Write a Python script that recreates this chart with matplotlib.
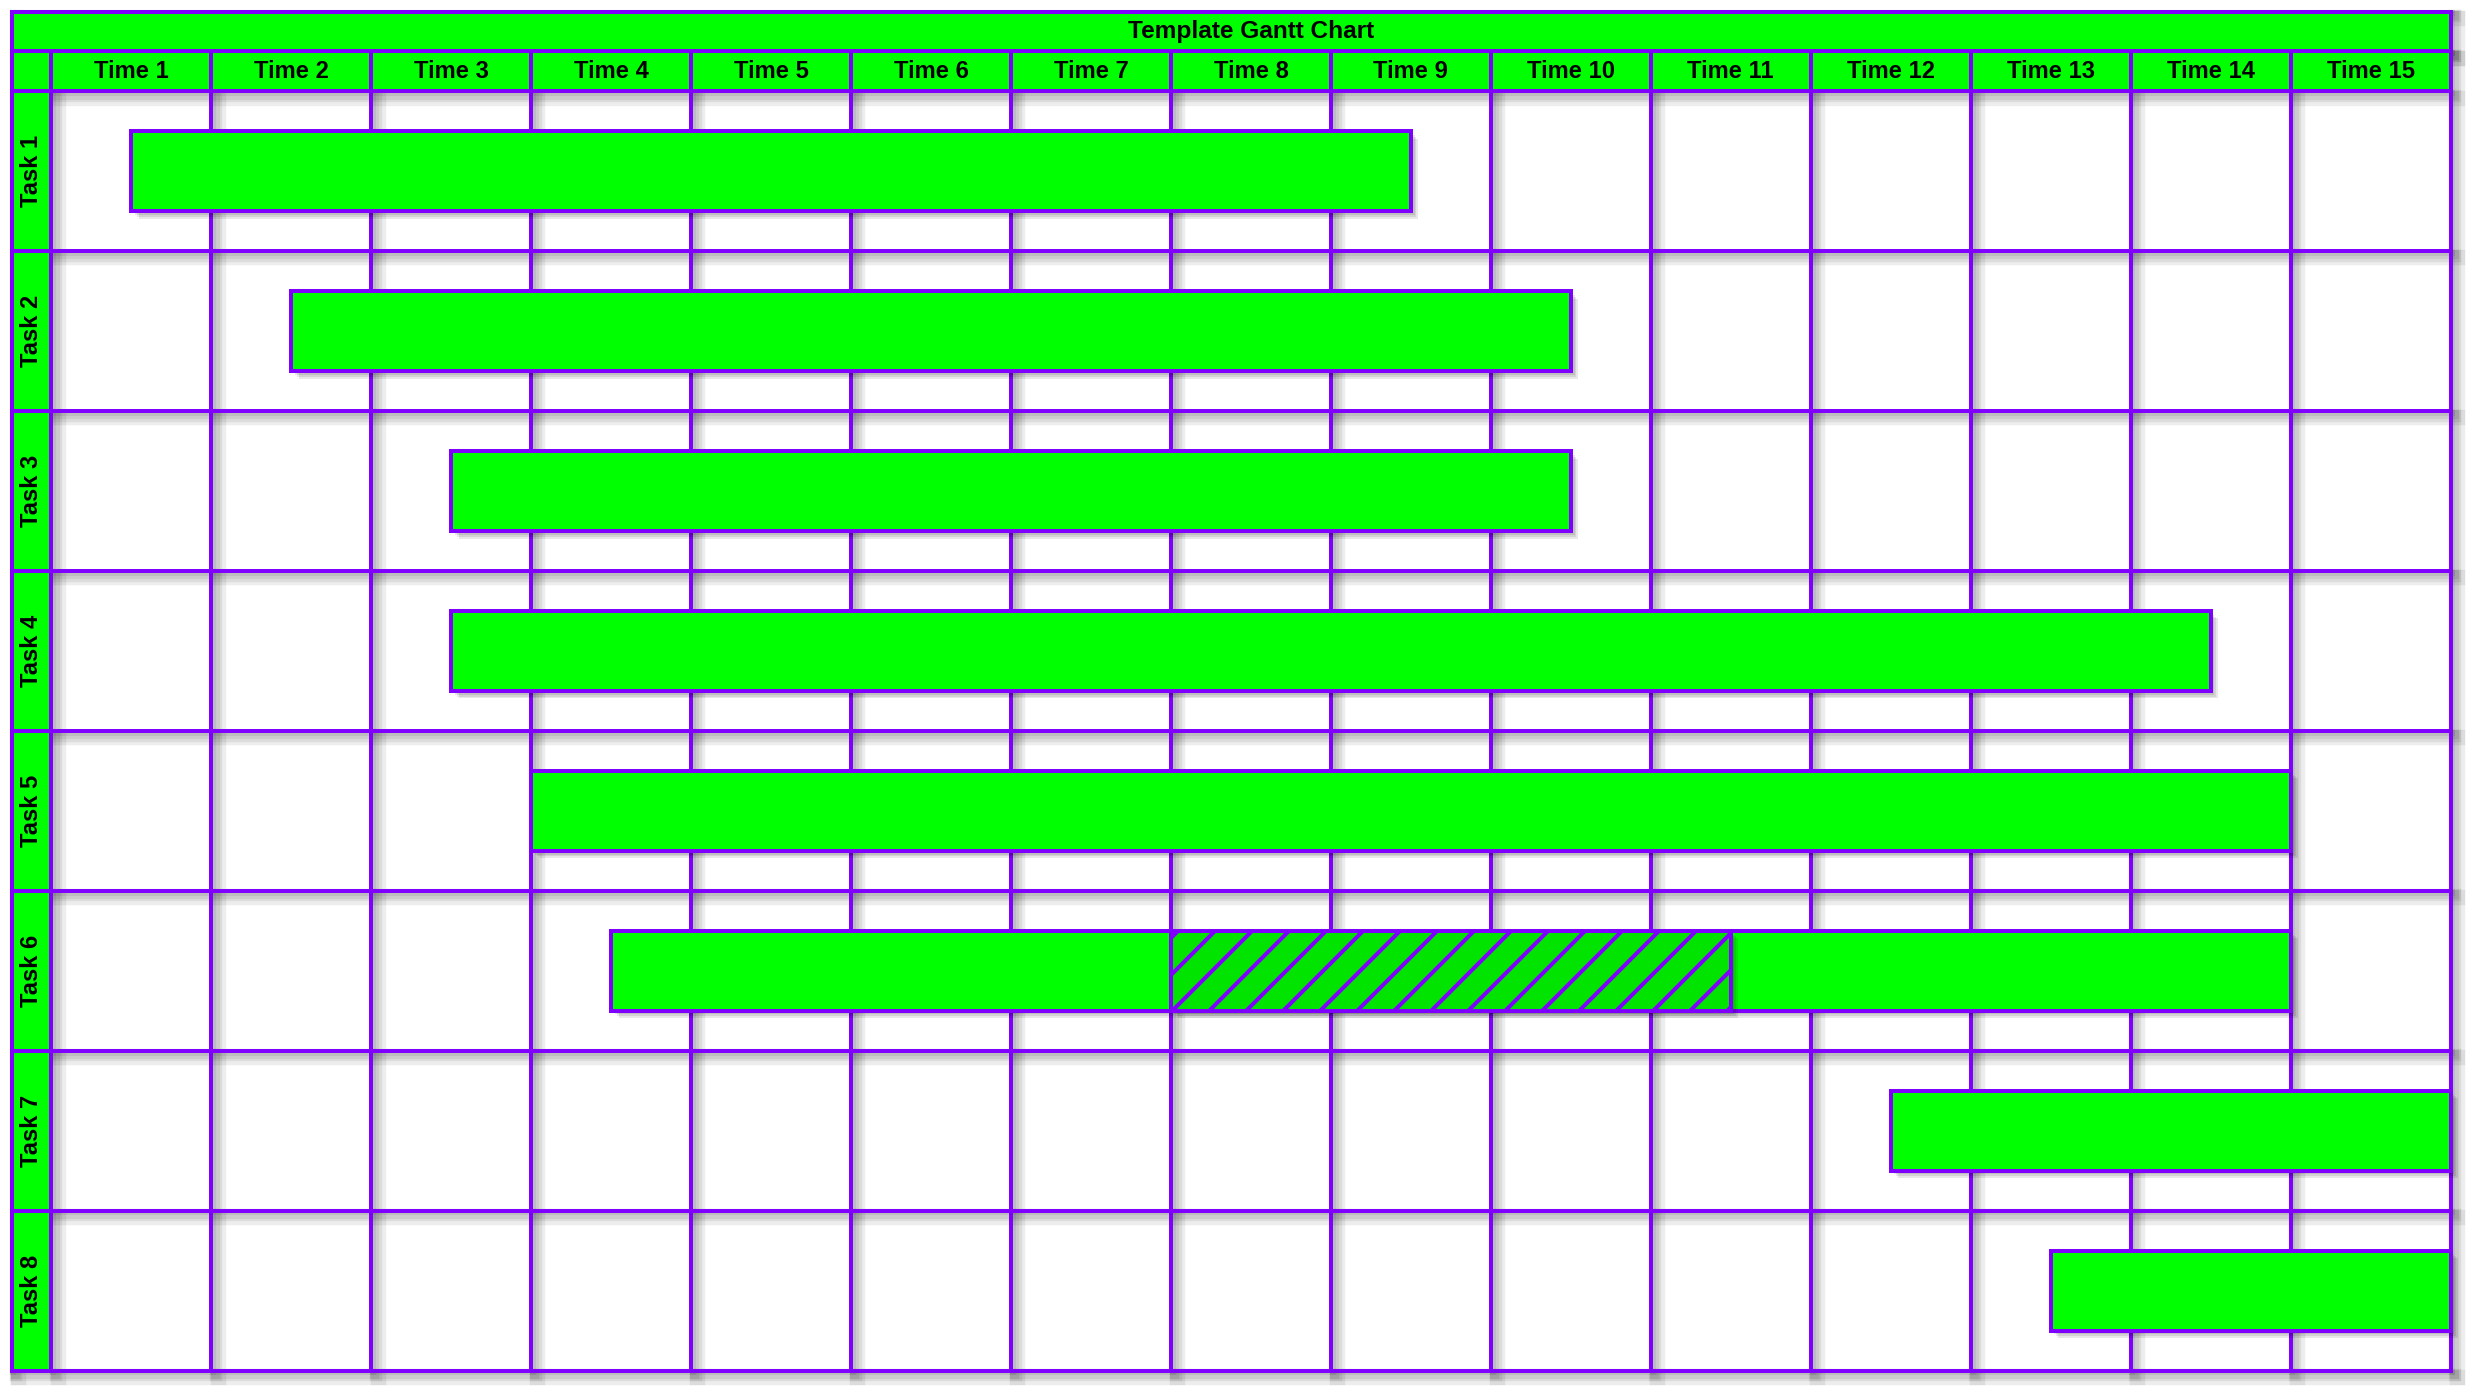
import matplotlib.pyplot as plt
import matplotlib.patheffects as pe
from matplotlib.patches import Rectangle

# chart data
title = "Template Gantt Chart"
times = ["Time 1", "Time 2", "Time 3", "Time 4", "Time 5", "Time 6", "Time 7", "Time 8",
         "Time 9", "Time 10", "Time 11", "Time 12", "Time 13", "Time 14", "Time 15"]
tasks = ["Task 1", "Task 2", "Task 3", "Task 4", "Task 5", "Task 6", "Task 7", "Task 8"]
# start / end in time units (0 = left edge of Time 1)
starts = [0.5, 1.5, 2.5, 2.5, 3.0, 3.5, 11.5, 12.5]
ends = [8.5, 9.5, 9.5, 13.5, 14.0, 14.0, 15.0, 15.0]
# hatched part of one task
hatch_task = "Task 6"
hatch_start = 7.0
hatch_end = 10.5

green = "#00FF00"
purple = "#8000FF"
lw = 1.3
DPI = 222

plt.rcParams['font.family'] = ['Liberation Sans', 'DejaVu Sans']
plt.rcParams['hatch.linewidth'] = 1.3

# soft drop shadows
line_shadow = [pe.SimpleLineShadow(offset=(o, -o), shadow_color='k', alpha=0.07, linewidth=w)
               for o, w in [(0.6, 2.0), (1.0, 3.0), (1.5, 4.0), (2.0, 5.0)]]
patch_shadow = [pe.SimplePatchShadow(offset=(o, -o), shadow_rgbFace='k', alpha=0.09)
                for o in [0.6, 1.2, 1.8, 2.4]]

fig = plt.figure(figsize=(2466 / DPI, 1388 / DPI), dpi=DPI)
W, H = 2466, 1388
ax = fig.add_axes([11.5 / W, (H - 1370.5) / H, 2439 / W, 1359 / H])
n_t = len(times)
n_k = len(tasks)
hh = 0.25  # header height / label width in cells
ax.set_xlim(-hh, n_t)
ax.set_ylim(n_k, -2 * hh)
ax.axis('off')

# grid shadows then grid lines
segs = []
for i in range(n_t + 1):
    segs.append(([i, i], [-hh, n_k]))
for j in range(n_k + 1):
    segs.append(([-hh, n_t], [j, j]))
segs.append(([-hh, -hh], [-2 * hh, n_k]))
segs.append(([-hh, n_t], [-2 * hh, -2 * hh]))
segs.append(([-hh, n_t], [-hh, -hh]))
segs.append(([n_t, n_t], [-2 * hh, -hh]))
for xs, ys in segs:
    ax.plot(xs, ys, color='none', lw=lw, zorder=1, clip_on=False,
            path_effects=line_shadow, solid_capstyle='projecting')

# header cells
ax.add_patch(Rectangle((-hh, -2 * hh), hh, 2 * hh, fc=green, ec='none', zorder=1.5))
ax.add_patch(Rectangle((0, -2 * hh), n_t, hh, fc=green, ec='none', zorder=1.5))
ax.add_patch(Rectangle((0, -hh), n_t, hh, fc=green, ec='none', zorder=1.5))
ax.add_patch(Rectangle((-hh, 0), hh, n_k, fc=green, ec='none', zorder=1.5))

for xs, ys in segs:
    ax.plot(xs, ys, color=purple, lw=lw, zorder=2, clip_on=False,
            solid_capstyle='projecting')

# header texts
ax.text(n_t / 2, -1.5 * hh, title, ha='center', va='center', fontsize=7.9,
        fontweight='bold', zorder=5)
for i, t in enumerate(times):
    ax.text(i + 0.5, -0.5 * hh, t, ha='center', va='center', fontsize=7.7,
            fontweight='bold', zorder=5)
for j, t in enumerate(tasks):
    ax.text(-0.5 * hh, j + 0.5, t, ha='center', va='center', fontsize=7.7,
            fontweight='bold', rotation=90, zorder=5)

# bars
for j, (s, e) in enumerate(zip(starts, ends)):
    ax.add_patch(Rectangle((s, j + 0.25), e - s, 0.5, fc=green, ec=purple, lw=lw,
                           zorder=3, clip_on=False,
                           path_effects=patch_shadow + [pe.Normal()]))
    if tasks[j] == hatch_task:
        # shadow of the hatched block, then the block itself
        ax.add_patch(Rectangle((hatch_start, j + 0.25), hatch_end - hatch_start, 0.5,
                               fc='k', ec='none', zorder=3.5, path_effects=patch_shadow))
        ax.add_patch(Rectangle((hatch_start, j + 0.25), hatch_end - hatch_start, 0.5,
                               fc='#00E400', ec=purple, lw=lw, hatch='//', zorder=4))

fig.savefig("out.png", dpi=DPI, facecolor='white')
